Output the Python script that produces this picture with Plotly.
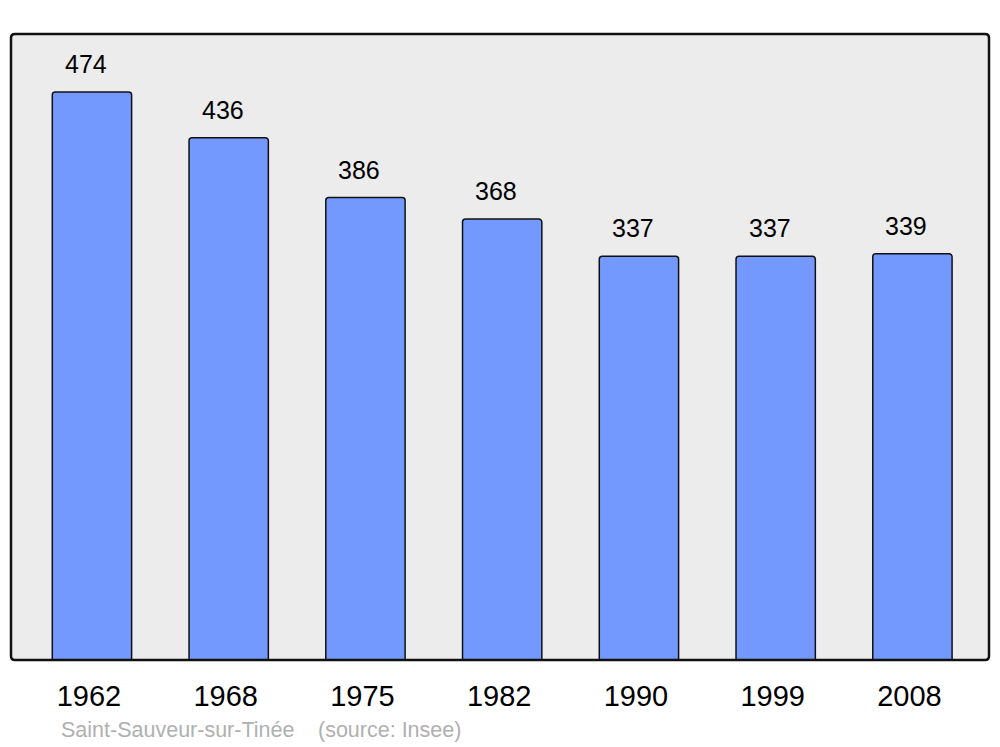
import plotly.graph_objects as go

years = ["1962", "1968", "1975", "1982", "1990", "1999", "2008"]
population = [474, 436, 386, 368, 337, 337, 339]
commune = "Saint-Sauveur-sur-Tinée"
source = "(source: Insee)"

# The page body has an 8px margin, so the figure is offset by 8px.
OFF = 8
W, H = 1000 - OFF, 747 - OFF
ml, mr, mt, mb = 11 - OFF, 11, 34 - OFF, 87
pw, ph = W - ml - mr, H - mt - mb

xpos = list(range(len(years)))
FONT = "Liberation Sans, Arial, sans-serif"

fig = go.Figure()
fig.add_trace(go.Bar(
    x=xpos, y=population, width=0.58,
    marker=dict(color="#7399ff", line=dict(color="#111111", width=1.5), cornerradius=3),
    hoverinfo="skip",
))

for xi, v in zip(xpos, population):
    fig.add_annotation(x=xi, y=v, text=str(v), showarrow=False, yanchor="middle",
                       yshift=28, xshift=-6, font=dict(size=25, color="#000000", family=FONT))

def rounded_path(r):
    rx, ry = r / pw, r / ph
    return (f"M {rx},0 L {1-rx},0 Q 1,0 1,{ry} L 1,{1-ry} Q 1,1 {1-rx},1 "
            f"L {rx},1 Q 0,1 0,{1-ry} L 0,{ry} Q 0,0 {rx},0 Z")

fig.add_shape(type="path", xref="paper", yref="paper", path=rounded_path(4),
              fillcolor="#ececec", line=dict(width=0), layer="below")
fig.add_shape(type="path", xref="paper", yref="paper", path=rounded_path(4),
              fillcolor="rgba(0,0,0,0)", line=dict(color="#111111", width=2.5), layer="above")

def px_to_paper(x, y):
    return (x - OFF - ml) / pw, (H + OFF - mb - y) / ph

for txt, px in ((commune, 61), (source, 318)):
    ax, ay = px_to_paper(px, 730)
    fig.add_annotation(x=ax, y=ay, xref="paper", yref="paper", text=txt, showarrow=False,
                       xanchor="left", yanchor="middle", xshift=-2,
                       font=dict(size=21.5, color="#b0b0b0", family=FONT))

fig.update_layout(
    width=W, height=H,
    margin=dict(l=ml, r=mr, t=mt, b=mb),
    paper_bgcolor="white", plot_bgcolor="rgba(0,0,0,0)",
    showlegend=False,
    xaxis=dict(range=[-0.592, 6.560], tickvals=xpos, ticktext=years,
               showgrid=False, zeroline=False, showline=False,
               ticks="outside", ticklen=10, tickcolor="rgba(0,0,0,0)",
               ticklabelshift=-3,
               tickfont=dict(size=29, color="#000000", family=FONT)),
    yaxis=dict(range=[0, 522.5], showgrid=False, zeroline=False, showline=False,
               showticklabels=False, ticks=""),
)

fig.write_html("out.html")
